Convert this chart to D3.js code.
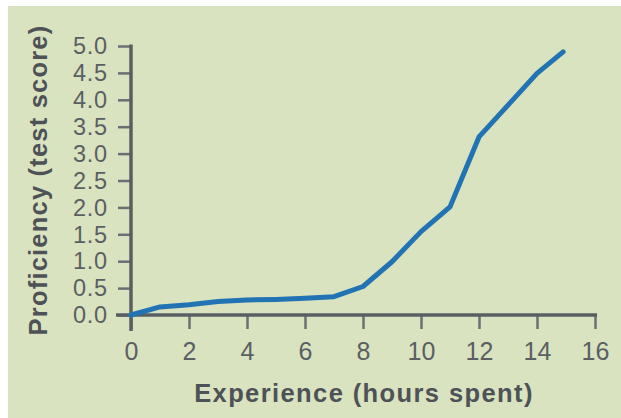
<!DOCTYPE html>
<html><head><meta charset="utf-8">
<script src="https://cdn.jsdelivr.net/npm/d3@7"></script>
<style>
html,body{margin:0;padding:0;background:#fff;}
svg{display:block;}
</style></head>
<body>
<svg id="chart" width="621" height="418"></svg>
<script>
const hours = [0, 1, 2, 3, 4, 5, 6, 7, 8, 9, 10, 11, 12, 13, 14, 14.9];
const proficiency = [0.0, 0.15, 0.19, 0.25, 0.28, 0.29, 0.31, 0.34, 0.53, 0.99, 1.55, 2.01, 3.31, 3.9, 4.49, 4.89];
const xTicks = [0, 2, 4, 6, 8, 10, 12, 14, 16];
const yTicks = [0, 0.5, 1.0, 1.5, 2.0, 2.5, 3.0, 3.5, 4.0, 4.5, 5.0];
const xTitle = "Experience (hours spent)";
const yTitle = "Proficiency (test score)";

const svg = d3.select("#chart");
const axisColor = "#595e63";
const textColor = "#5a5f64";
const font = "Liberation Sans, Arial, sans-serif";

svg.append("rect").attr("x", 8).attr("y", 6).attr("width", 613).attr("height", 412).attr("fill", "#d9e3bf");

const x = d3.scaleLinear().domain([0, 16]).range([131, 595]);
const y = d3.scaleLinear().domain([0, 5]).range([315, 46]);

// y axis
const gy = svg.append("g").attr("transform", "translate(131,0)")
  .call(d3.axisLeft(y).tickValues(yTicks).tickFormat(d3.format(".1f")).tickSize(13).tickSizeOuter(0));
gy.select(".domain").remove();
gy.selectAll(".tick line").attr("stroke", "#6b6f73").attr("stroke-width", 2.5);
gy.selectAll(".tick text").attr("fill", textColor).attr("font-family", font).attr("font-size", 23.5)
  .attr("dy", "0.33em").attr("x", -23).attr("letter-spacing", 0.8);

// x axis
const gx = svg.append("g").attr("transform", "translate(0,315)")
  .call(d3.axisBottom(x).tickValues(xTicks).tickFormat(d3.format("d")).tickSize(14).tickSizeOuter(0));
gx.select(".domain").remove();
gx.selectAll(".tick line").attr("stroke", "#6b6f73").attr("stroke-width", 2.5);
gx.selectAll(".tick text").attr("fill", textColor).attr("font-family", font).attr("font-size", 25)
  .attr("dy", "0.36em").attr("y", 36);

// axis lines
svg.append("line").attr("x1", 116).attr("x2", 597).attr("y1", y(0)).attr("y2", y(0)).attr("stroke", axisColor).attr("stroke-width", 3.5);
svg.append("line").attr("x1", x(0)).attr("x2", x(0)).attr("y1", y(5) - 1.5).attr("y2", 331).attr("stroke", axisColor).attr("stroke-width", 3.5);

// line
const line = d3.line().x((d, i) => x(hours[i])).y(d => y(d)).curve(d3.curveLinear);
svg.append("path").datum(proficiency).attr("d", line).attr("fill", "none")
  .attr("stroke", "#2273b4").attr("stroke-width", 5).attr("stroke-linecap", "round").attr("stroke-linejoin", "round");

// titles
svg.append("text").attr("x", 364).attr("y", 402).attr("text-anchor", "middle")
  .attr("font-family", font).attr("font-weight", "bold").attr("font-size", 25.5)
  .attr("letter-spacing", 1.4).attr("fill", "#4d5257").text(xTitle);
svg.append("text").attr("transform", "translate(47,180) rotate(-90)").attr("text-anchor", "middle")
  .attr("font-family", font).attr("font-weight", "bold").attr("font-size", 25.5)
  .attr("letter-spacing", 1.2).attr("fill", "#4d5257").text(yTitle);
</script>
</body></html>
